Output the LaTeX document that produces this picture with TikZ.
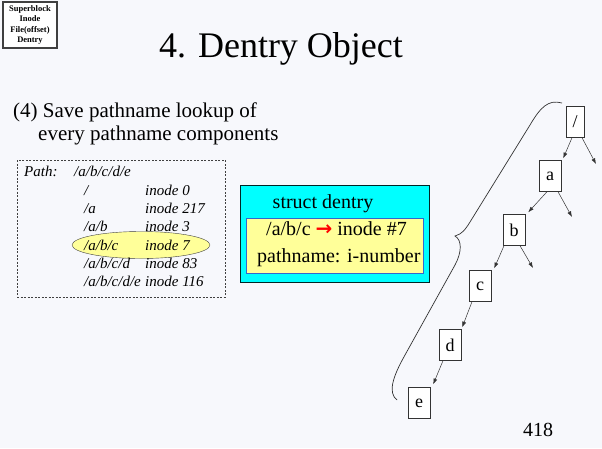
\documentclass[tikz,border=0pt]{standalone}
\usepackage{fontspec}
\setmainfont{Liberation Serif}
\newfontfamily\symfont{DejaVu Sans}
\usetikzlibrary{positioning,arrows.meta,shapes.geometric}
\definecolor{slidebg}{HTML}{F7F8FC}
\definecolor{dentrycyan}{HTML}{00FFFF}
\definecolor{noteyellow}{HTML}{FFFF99}
\definecolor{boxblue}{HTML}{3366CC}

\begin{document}
\begin{tikzpicture}[x=1pt,y=-1pt,
  txt/.style={inner sep=0pt, anchor=base west},
  pathtxt/.style={txt, font=\fontsize{15}{18}\selectfont\itshape},
  dirbox/.style={draw=black!80, fill=white, inner sep=0pt, minimum width=22pt,
                 minimum height=31pt, font=\fontsize{18}{20}\selectfont},
  arr/.style={-{Latex[length=2mm,width=1.4mm]}, black!80, line width=0.5pt}]
\fill[slidebg] (0,0) rectangle (602,448);
\useasboundingbox (0,0) rectangle (602,448);

% header
\node[draw=black!75, line width=1.2pt, fill=white, minimum width=54pt, minimum height=46pt,
      align=center, font=\fontsize{8.5}{10.5}\selectfont\bfseries] (legend) at (30,25)
      {Superblock\\ Inode\\ File(offset)\\ Dentry};
\node[inner sep=0pt, anchor=base, font=\fontsize{36}{40}\selectfont] (title) at (281,57) {4. Dentry Object};
\node[txt, font=\fontsize{21}{23}\selectfont] (save) at (13,117) {(4) Save pathname lookup of};
\node[txt, font=\fontsize{21}{23}\selectfont] (every) at (38,140) {every pathname components};

% path table
\node[draw=black!75, dash pattern=on 2pt off 1.5pt, minimum width=208pt, minimum height=137pt] (pathbox) at (121,228.5) {};
\node[ellipse, draw=black!75, fill=noteyellow, minimum width=138pt, minimum height=27pt] (hl) at (141,245) {};
\node[pathtxt] (pathlbl) at (24,176) {Path:};
\node[pathtxt] (pathval) at (74,176) {/a/b/c/d/e};
\node[pathtxt] (p0) at (84,195) {/};         \node[pathtxt] (i0) at (145,195) {inode 0};
\node[pathtxt] (p1) at (84,213) {/a};        \node[pathtxt] (i1) at (145,213) {inode 217};
\node[pathtxt] (p2) at (84,231) {/a/b};      \node[pathtxt] (i2) at (145,231) {inode 3};
\node[pathtxt] (p3) at (84,250) {/a/b/c};    \node[pathtxt] (i3) at (145,250) {inode 7};
\node[pathtxt] (p4) at (84,268) {/a/b/c/d};  \node[pathtxt] (i4) at (145,268) {inode 83};
\node[pathtxt] (p5) at (84,286) {/a/b/c/d/e};\node[pathtxt] (i5) at (145,286) {inode 116};

% struct dentry
\node[draw=black!70!teal, line width=0.8pt, fill=dentrycyan, minimum width=189pt, minimum height=97pt] (dentry) at (334.5,233.5) {};
\node[draw=boxblue, fill=noteyellow, minimum width=177pt, minimum height=55pt] (dval) at (334.5,245.5) {};
\node[txt, anchor=base, font=\fontsize{20}{22}\selectfont] (dname) at (323,208) {struct dentry};
\node[txt, font=\fontsize{20}{22}\selectfont] (dmap) at (266,235) {/a/b/c {\symfont\bfseries\color{red}→} inode \#7};
\node[txt, font=\fontsize{20}{22}\selectfont] (dnum) at (257,262) {pathname: i-number};

% directory tree
\node[dirbox, minimum width=18pt] (root) at (575,122) {/};
\node[dirbox] (a) at (550,176) {a};
\node[dirbox] (b) at (514,230) {b};
\node[dirbox] (c) at (480,286) {c};
\node[dirbox] (d) at (450,345) {d};
\node[dirbox] (e) at (419,403) {e};
\coordinate (rootr) at (596,164);
\coordinate (ar) at (572,217);
\coordinate (br) at (533,268);
\draw[arr] ([xshift=-3pt]root.south) -- ([xshift=2pt,yshift=2pt]a.north east);
\draw[arr] ([xshift=-3pt]a.south) -- ([xshift=3pt,yshift=2pt]b.north east);
\draw[arr] ([xshift=-10pt]b.south) -- ([xshift=3pt,yshift=2pt]c.north east);
\draw[arr] ([xshift=-8pt]c.south) -- ([xshift=1pt,yshift=2pt]d.north east);
\draw[arr] ([xshift=-7pt]d.south) -- ([xshift=3pt,yshift=3pt]e.north east);
\draw[arr] ([xshift=7pt]root.south) -- (rootr);
\draw[arr] ([xshift=8pt]a.south) -- (ar);
\draw[arr] ([xshift=6pt]b.south) -- (br);

% brace
\draw[black!80, line width=0.7pt] (562,103) .. controls (548,99) and (540,108) .. (530,125)
  -- (470,222) .. controls (465,230) and (462,234) .. (455,236)
  .. controls (462,240) and (462,252) .. (455,265)
  -- (405,355) .. controls (392,378) and (388,393) .. (397,400);

\node[txt, font=\fontsize{20}{22}\selectfont] (page) at (523,436) {418};
\end{tikzpicture}
\end{document}
